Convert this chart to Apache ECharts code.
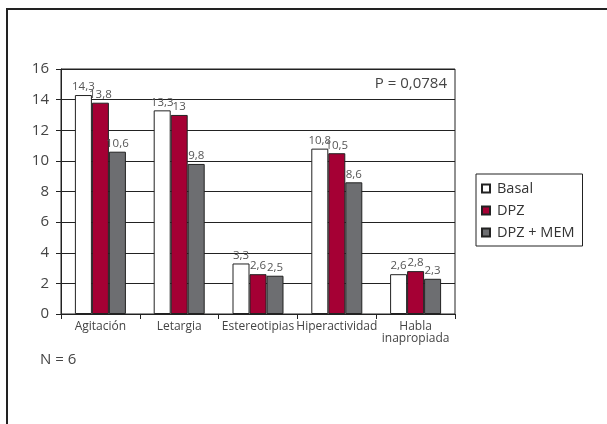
<!DOCTYPE html>
<html><head><meta charset="utf-8">
<script src="https://cdn.jsdelivr.net/npm/echarts@6/dist/echarts.min.js"></script>
<style>html,body{margin:0;padding:0;background:#fff}#c{width:607px;height:424px}</style>
</head><body><div id="c"></div>
<script>
const categories = ['Agitación', 'Letargia', 'Estereotipias', 'Hiperactividad', 'Habla\ninapropiada'];
const basal = [14.3, 13.3, 3.3, 10.8, 2.6];
const dpz = [13.8, 13, 2.6, 10.5, 2.8];
const dpzMem = [10.6, 9.8, 2.5, 8.6, 2.3];
const yTicks = [0, 2, 4, 6, 8, 10, 12, 14, 16];
const FONT = 'Open Sans';
const chart = echarts.init(document.getElementById('c'));
const lbl = {show: true, position: 'top', distance: 2, color: '#555', fontFamily: FONT, fontSize: 11.5,
  formatter: p => String(p.value).replace('.', ',')};
function ser(name, data, color) {
  return {name, type: 'bar', data, barWidth: 17, barGap: '0%',
    itemStyle: {color, borderColor: '#222', borderWidth: 1}, label: lbl};
}
chart.setOption({
  animation: false,
  textStyle: {fontFamily: FONT},
  grid: {left: 61, right: 152, top: 69, bottom: 110, show: true, borderColor: '#222', borderWidth: 1},
  xAxis: {type: 'category', data: categories,
    axisLine: {lineStyle: {color: '#222', width: 1}},
    axisTick: {show: true, length: 5, lineStyle: {color: '#222'}},
    axisLabel: {color: '#444', fontSize: 12, margin: 7, lineHeight: 12, interval: 0}},
  yAxis: {type: 'value', min: yTicks[0], max: yTicks[yTicks.length - 1], interval: 2,
    axisLine: {show: true, lineStyle: {color: '#222'}},
    axisTick: {show: true, length: 5, lineStyle: {color: '#222'}},
    axisLabel: {color: '#444', fontSize: 15, margin: 12},
    splitLine: {lineStyle: {color: '#222', width: 1}}},
  legend: {orient: 'vertical', left: 476, top: 174,
    backgroundColor: '#fff', borderColor: '#222', borderWidth: 1,
    padding: [7, 8, 6, 5], itemGap: 7, itemWidth: 8, itemHeight: 8, icon: 'rect',
    textStyle: {color: '#333', fontSize: 14.5, fontFamily: FONT, padding: [0, 0, 0, 2]},
    data: ['Basal', 'DPZ', 'DPZ + MEM']},
  series: [ser('Basal', basal, '#ffffff'), ser('DPZ', dpz, '#a50034'), ser('DPZ + MEM', dpzMem, '#6d6e71')],
  graphic: [
    {type: 'rect', shape: {x: 7, y: 9, width: 800, height: 600}, style: {fill: 'none', stroke: '#222', lineWidth: 2}, silent: true, z: -10},
    {type: 'text', right: 160, top: 76, style: {text: 'P = 0,0784', fill: '#444', font: '15px "Open Sans"'}},
    {type: 'text', left: 40, top: 352, style: {text: 'N = 6', fill: '#444', font: '15px "Open Sans"'}}
  ]
});
</script></body></html>
